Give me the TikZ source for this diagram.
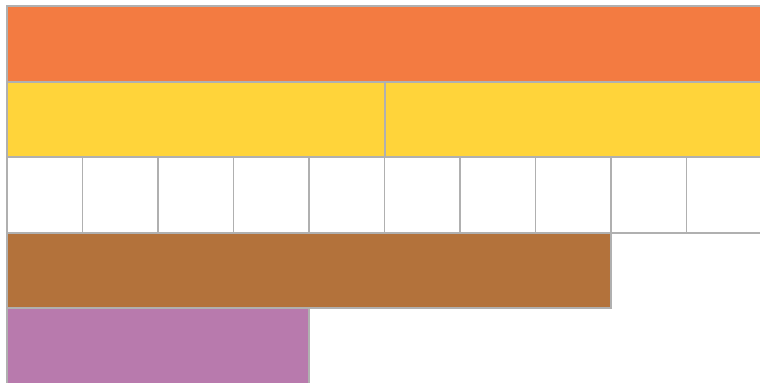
\documentclass[tikz,border=0pt]{standalone}
\usepackage{xcolor}
\definecolor{BarOrange}{HTML}{F37B41}
\definecolor{BarYellow}{HTML}{FFD43A}
\definecolor{BarBrown}{HTML}{B3723B}
\definecolor{BarPurple}{HTML}{B87AAD}
\definecolor{BarGrey}{HTML}{B0B0B0}
\usetikzlibrary{positioning}

\begin{document}
\begin{tikzpicture}[
  bar/.style={draw=BarGrey,line width=0.04cm,inner sep=0pt,outer sep=0pt,minimum height=1.51cm,anchor=north west}
]
  \useasboundingbox (0,0) rectangle (15.2,-7.66);
  \clip (0,0) rectangle (15.2,-7.66);
  % whole
  \node[bar,fill=BarOrange,minimum width=15.1cm] (whole) at (0.14,-0.125) {};
  % halves
  \node[bar,fill=BarYellow,minimum width=7.55cm,below right=0cm of whole.south west] (halfA) {};
  \node[bar,fill=BarYellow,minimum width=7.55cm,below right=0cm of halfA.north east] (halfB) {};
  % tenths
  \foreach \i in {0,...,9}
    \node[bar,fill=white,minimum width=1.51cm,below right=0cm of halfA.south west,xshift=\i*1.51cm] (tenth\i) {};
  % four fifths, two fifths
  \node[bar,fill=BarBrown,minimum width=12.08cm,below right=0cm of tenth0.south west] (fourfifths) {};
  \node[bar,fill=BarPurple,minimum width=6.04cm,below right=0cm of fourfifths.south west] (twofifths) {};
\end{tikzpicture}
\end{document}
